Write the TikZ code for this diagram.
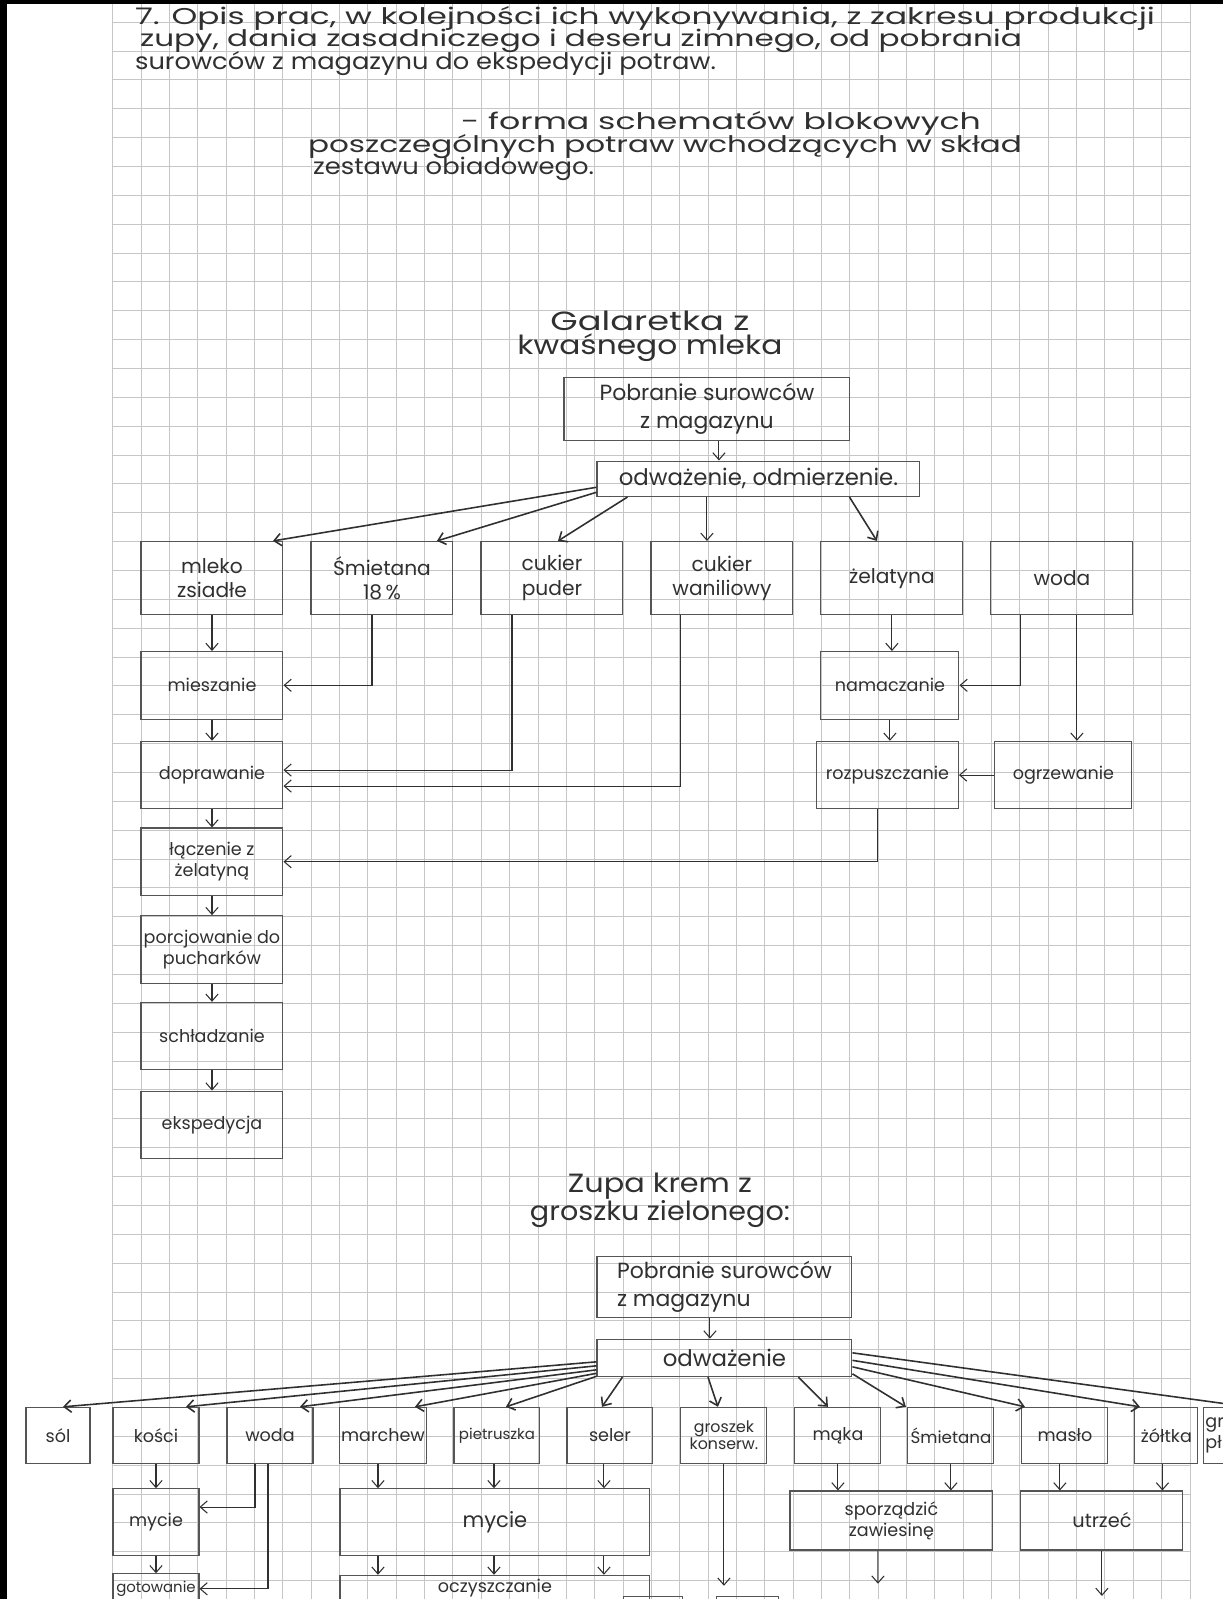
\documentclass[tikz,border=0pt]{standalone}
\usepackage{fontspec}
\usepackage{graphicx}
\setmainfont{Poppins}
\usetikzlibrary{arrows.meta,calc}

\definecolor{ink}{HTML}{303030}
\definecolor{lead}{HTML}{555555}
\definecolor{sq}{HTML}{C6C6C6}

\newcommand{\wide}[2]{\resizebox{#1}{\height}{#2}}

\begin{document}
\begin{tikzpicture}[x=0.02cm,y=-0.0204cm,
  every node/.style={text=ink,inner sep=1pt},
  box/.style={draw=lead,line width=0.6pt,align=center,font=\fontsize{10}{12}\selectfont},
  ing/.style={box,minimum width=2.84cm,minimum height=1.47cm,font=\fontsize{11.5}{14}\selectfont},
  job/.style={box,minimum width=2.84cm,minimum height=1.35cm},
  raw/.style={box,minimum width=1.72cm,minimum height=1.12cm},
  arr/.style={draw=ink,line width=0.6pt,-{Straight Barb[length=4pt,width=7pt]}},
  fan/.style={arr,line width=0.9pt},
  head/.style={anchor=west,font=\fontsize{13}{15}\selectfont},
  title/.style={align=center,font=\fontsize{15}{13.6}\selectfont}]
  \useasboundingbox (0,0) rectangle (1223,1568);
  \begin{scope}
  \clip (0,0) rectangle (1223,1568);
  \fill[white] (0,0) rectangle (1223,1568);
  \foreach \i in {0,...,38} \draw[sq,line width=0.4pt] ({112.65+28.35*\i},0) -- ({112.65+28.35*\i},1568);
  \foreach \j in {-19,...,37} \draw[sq,line width=0.4pt] (112.65,{531+28.3*\j}) -- (1190.95,{531+28.3*\j});
  \fill[black] (0,0) rectangle (1223,4);
  \fill[black] (0,0) rectangle (7,1568);

  \node[head] (h1) at (133,18) {\wide{20.4cm}{7. Opis prac, w kolejności ich wykonywania, z zakresu produkcji}};
  \node[head] (h2) at (138,40) {\wide{17.64cm}{zupy, dania zasadniczego i deseru zimnego, od pobrania}};
  \node[head] (h3) at (133,62) {\wide{11.62cm}{surowców z magazynu do ekspedycji potraw.}};
  \node[head] (h4) at (459,121) {\wide{10.4cm}{- forma schematów blokowych}};
  \node[head] (h5) at (306,144) {\wide{14.28cm}{poszczególnych potraw wchodzących w skład}};
  \node[head] (h6) at (311,166) {\wide{5.62cm}{zestawu obiadowego.}};

  \node[title] (t1) at (650,330) {\wide{3.98cm}{Galaretka z}\\\wide{5.3cm}{kwaśnego mleka}};
  \node[box,minimum width=5.72cm,minimum height=1.26cm,font=\fontsize{12.5}{16}\selectfont] (pob1) at (707,401) {Pobranie surowców\\z magazynu};
  \node[box,minimum width=6.46cm,minimum height=0.71cm,font=\fontsize{13}{15}\selectfont] (odw1) at (758.5,469.5) {odważenie, odmierzenie.};

  \node[ing] (mleko) at (212,567) {mleko\\zsiadłe};
  \node[ing] (smiet) at (382,567) {Śmietana\\18\,\%};
  \node[ing] (puder) at (552,567) {cukier\\puder};
  \node[ing] (wanil) at (722,567) {cukier\\waniliowy};
  \node[ing] (zelat) at (892,567) {żelatyna};
  \node[ing] (woda) at (1062,567) {woda};

  \node[job] (miesz) at (212,672) {mieszanie};
  \node[job] (dopr) at (212,760) {doprawanie};
  \node[job] (lacz) at (212,845) {łączenie z\\żelatyną};
  \node[job] (porc) at (212,931) {porcjowanie do\\pucharków};
  \node[job] (schl) at (212,1016) {schładzanie};
  \node[job] (eksp) at (212,1103) {ekspedycja};
  \node[job,minimum width=2.76cm] (namacz) at (890,672) {namaczanie};
  \node[job] (rozp) at (887.5,760) {rozpuszczanie};
  \node[job,minimum width=2.74cm] (ogrz) at (1063.5,760) {ogrzewanie};

  \coordinate (a1) at ([xshift=0.24cm]pob1.south);
  \draw[arr] (a1) -- (a1 |- odw1.north);
  \draw[fan] ([yshift=-0.17cm]odw1.west) -- ([xshift=1.22cm]mleko.north);
  \draw[fan] ([yshift=-0.27cm]odw1.west) -- ([xshift=1.1cm]smiet.north);
  \draw[fan] ([xshift=0.62cm]odw1.south west) -- ([xshift=0.12cm]puder.north);
  \coordinate (a2) at ([xshift=-0.3cm]wanil.north);
  \draw[arr] (a2 |- odw1.south) -- (a2);
  \draw[fan] ([xshift=-1.42cm]odw1.south east) -- ([xshift=-0.3cm]zelat.north);

  \draw[arr] (mleko) -- (miesz);
  \draw[arr] ([xshift=-0.2cm]smiet.south) |- (miesz.east);
  \draw[arr] ([xshift=-0.8cm]puder.south) |- ([yshift=0.1cm]dopr.east);
  \draw[arr] ([xshift=-0.82cm]wanil.south) |- ([yshift=-0.22cm]dopr.east);
  \draw[arr] (miesz) -- (dopr);
  \draw[arr] (dopr) -- (lacz);
  \draw[arr] (lacz) -- (porc);
  \draw[arr] (porc) -- (schl);
  \draw[arr] (schl) -- (eksp);
  \draw[arr] (zelat.south) -- (zelat.south |- namacz.north);
  \draw[arr] ([xshift=-0.82cm]woda.south) |- (namacz.east);
  \coordinate (a3) at ([xshift=0.3cm]woda.south);
  \draw[arr] (a3) -- (a3 |- ogrz.north);
  \draw[arr] (ogrz) -- (rozp);
  \draw[arr] (namacz.south) -- (namacz.south |- rozp.north);
  \draw[arr] ([xshift=-0.19cm]rozp.south) |- (lacz.east);

  \node[title] (t3) at (660,1177) {\wide{3.68cm}{Zupa krem z}\\\wide{5.2cm}{groszku zielonego:}};
  \node[box,minimum width=5.1cm,minimum height=1.22cm,align=left,font=\fontsize{12.5}{16}\selectfont] (pob2) at (724.5,1262) {Pobranie surowców\\z magazynu};
  \node[box,minimum width=5.1cm,minimum height=0.75cm,font=\fontsize{13}{15}\selectfont] (odw2) at (724.5,1331.5) {odważenie};

  \node[raw,minimum width=1.28cm] (sol) at (58,1407.5) {sól};
  \node[raw] (kosci) at (156,1407.5) {kości};
  \node[raw] (woda2) at (270,1407.5) {woda};
  \node[raw] (march) at (383,1407.5) {marchew};
  \node[raw,font=\fontsize{8.5}{10}\selectfont] (pietr) at (497,1407.5) {pietruszka};
  \node[raw] (seler) at (610,1407.5) {seler};
  \node[raw,font=\fontsize{9}{10}\selectfont] (grosz) at (724,1407.5) {groszek\\konserw.};
  \node[raw] (maka) at (838,1407.5) {mąka};
  \node[raw,font=\fontsize{9.5}{10}\selectfont] (smiet2) at (951,1407.5) {Śmietana};
  \node[raw] (maslo) at (1065,1407.5) {masło};
  \node[raw,minimum width=1.26cm] (zoltka) at (1166.5,1407.5) {żółtka};
  \node[raw,minimum width=0pt,text width=1.1cm,align=left] (gr) at (1233,1407.5) {gr\\pł};

  \node[raw,minimum height=1.33cm] (myc1) at (156,1492.5) {mycie};
  \node[box,minimum width=6.2cm,minimum height=1.33cm,font=\fontsize{12}{14}\selectfont] (myc2) at (495,1492.5) {mycie};
  \node[box,minimum width=4.06cm,minimum height=1.18cm] (sporz) at (891.5,1491) {sporządzić\\zawiesinę};
  \node[box,minimum width=3.24cm,minimum height=1.18cm,font=\fontsize{11}{13}\selectfont] (utrz) at (1102,1491) {utrzeć};
  \node[raw,minimum height=0.6cm,font=\fontsize{8.5}{10}\selectfont] (gotow) at (156,1558) {gotowanie};
  \node[box,minimum width=6.2cm,minimum height=0.5cm] (oczysz) at (495,1557) {oczyszczanie};
  \node[box,minimum width=1.18cm,minimum height=0.4cm] (bx1) at (653.5,1575) {};
  \node[box,minimum width=1.24cm,minimum height=0.4cm] (bx2) at (748,1575) {};

  \coordinate (b1) at ([xshift=-0.29cm]pob2.south);
  \draw[arr] (b1) -- (b1 |- odw2.north);
  \draw[fan] ([yshift=-0.08cm]odw2.west) -- ([xshift=0.1cm]sol.north);
  \draw[fan] ([yshift=-0.16cm]odw2.west) -- ([xshift=0.6cm]kosci.north);
  \draw[fan] ([yshift=-0.24cm]odw2.west) -- ([xshift=0.6cm]woda2.north);
  \draw[fan] ([yshift=-0.31cm]odw2.west) -- ([xshift=0.64cm]march.north);
  \draw[fan] ([yshift=-0.37cm]odw2.west) -- ([xshift=0.18cm]pietr.north);
  \draw[fan] ([xshift=0.52cm]odw2.south west) -- ([xshift=-0.16cm]seler.north);
  \draw[fan] ([xshift=-0.33cm]odw2.south) -- ([xshift=-0.12cm]grosz.north);
  \draw[fan] ([xshift=-1.08cm]odw2.south east) -- ([xshift=-0.2cm]maka.north);
  \draw[fan] ([yshift=-0.32cm]odw2.east) -- ([xshift=-0.9cm]smiet2.north);
  \draw[fan] ([yshift=-0.18cm]odw2.east) -- ([xshift=-0.8cm]maslo.north);
  \draw[fan] ([yshift=-0.05cm]odw2.east) -- ([xshift=-0.53cm]zoltka.north);
  \draw[fan] ([yshift=0.1cm]odw2.east) -- ([xshift=0.3cm]gr.north);

  \coordinate (c1) at ([xshift=-0.1cm]march.south);
  \coordinate (c2) at ([xshift=-0.06cm]pietr.south);
  \coordinate (c3) at ([xshift=-0.12cm]seler.south);
  \coordinate (c4) at ([xshift=-0.1cm]maslo.south);
  \coordinate (c5) at ([xshift=-0.08cm]zoltka.south);
  \coordinate (c6) at ([xshift=-0.27cm]sporz.south);
  \coordinate (c7) at ([xshift=-0.3cm]woda2.south);
  \coordinate (c8) at ([xshift=-0.04cm]woda2.south);
  \coordinate (e1) at (878,1553);
  \coordinate (e2) at (1102,1565);
  \coordinate (e3) at (724,1555);
  \draw[arr] (kosci) -- (myc1);
  \draw[arr] (c1) -- (c1 |- myc2.north);
  \draw[arr] (c2) -- (c2 |- myc2.north);
  \draw[arr] (c3) -- (c3 |- myc2.north);
  \draw[arr] (grosz.south) -- (e3);
  \draw[arr] (maka.south) -- (maka.south |- sporz.north);
  \draw[arr] (smiet2.south) -- (smiet2.south |- sporz.north);
  \draw[arr] (c4) -- (c4 |- utrz.north);
  \draw[arr] (c5) -- (c5 |- utrz.north);
  \draw[arr] (c6) -- (e1);
  \draw[arr] (utrz.south) -- (e2);
  \draw[arr] (c7) |- ([yshift=0.3cm]myc1.east);
  \draw[arr] (c8) |- (gotow.east);
  \draw[arr] (myc1) -- (gotow);
  \draw[arr] (c1 |- myc2.south) -- (c1 |- oczysz.north);
  \draw[arr] (c2 |- myc2.south) -- (c2 |- oczysz.north);
  \draw[arr] (c3 |- myc2.south) -- (c3 |- oczysz.north);
  \end{scope}
\end{tikzpicture}
\end{document}
